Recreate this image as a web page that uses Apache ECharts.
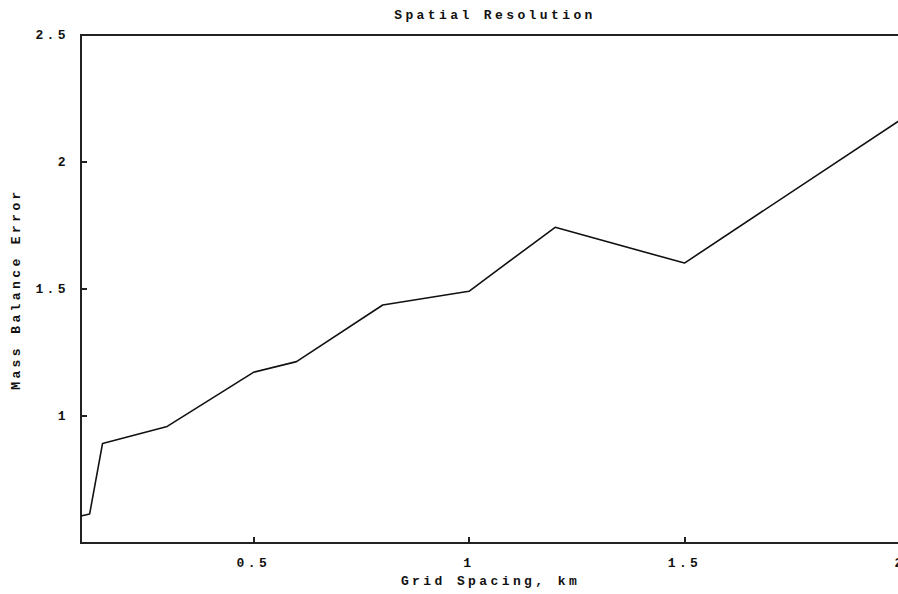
<!DOCTYPE html>
<html>
<head>
<meta charset="utf-8">
<script src="https://cdn.jsdelivr.net/npm/echarts@6/dist/echarts.min.js"></script>
<style>
html,body{margin:0;padding:0;background:#fff;overflow:hidden;}
#c{width:898px;height:594px;}
#c text{letter-spacing:3.4px;}
</style>
</head>
<body>
<div id="c"></div>
<script>
var gridSpacing = [0.1, 0.12, 0.15, 0.3, 0.5, 0.6, 0.8, 1.0, 1.2, 1.5, 2.0];
var massBalanceError = [0.606, 0.614, 0.892, 0.959, 1.172, 1.214, 1.437, 1.491, 1.743, 1.602, 2.165];
var xTicks = [0.5, 1, 1.5, 2];
var yTicks = [1, 1.5, 2, 2.5];

var font = { fontFamily: 'Liberation Mono', fontWeight: 'bold', fontSize: 13, color: '#111' };
var pts = gridSpacing.map(function (x, i) { return [x, massBalanceError[i]]; });

var chart = echarts.init(document.getElementById('c'), null, { renderer: 'svg' });
chart.setOption({
  animation: false,
  backgroundColor: '#fff',
  title: {
    text: 'Spatial Resolution',
    left: 490, top: 4, textAlign: 'center',
    textStyle: Object.assign({}, font)
  },
  grid: {
    left: 81, top: 35, right: -2, bottom: 51,
    containLabel: false, outerBoundsMode: 'none',
    show: true, borderColor: '#222', borderWidth: 2, backgroundColor: 'transparent'
  },
  xAxis: {
    type: 'value', min: 0.1, max: 2,
    name: 'Grid Spacing, km', nameLocation: 'middle', nameGap: 32,
    nameTextStyle: Object.assign({}, font),
    axisLine: { show: true, lineStyle: { color: '#222', width: 2 } },
    axisTick: { show: true, inside: true, length: 6, customValues: xTicks, lineStyle: { color: '#222', width: 2 } },
    axisLabel: { show: true, margin: 14, hideOverlap: false, customValues: xTicks, formatter: function (v) { return String(v); }, fontFamily: font.fontFamily, fontWeight: 'bold', fontSize: 13, color: '#111' },
    splitLine: { show: false }
  },
  yAxis: {
    type: 'value', min: 0.5, max: 2.5,
    name: 'Mass Balance Error', nameLocation: 'middle', nameGap: 58, nameRotate: 90,
    nameTextStyle: Object.assign({}, font),
    axisLine: { show: true, lineStyle: { color: '#222', width: 2 } },
    axisTick: { show: true, inside: true, length: 6, customValues: yTicks, lineStyle: { color: '#222', width: 2 } },
    axisLabel: { show: true, margin: 12, customValues: yTicks, formatter: function (v) { return String(v); }, fontFamily: font.fontFamily, fontWeight: 'bold', fontSize: 13, color: '#111' },
    splitLine: { show: false }
  },
  series: [{
    type: 'line',
    data: pts,
    symbol: 'none',
    lineStyle: { color: '#111', width: 1.6 }
  }]
});
</script>
</body>
</html>
